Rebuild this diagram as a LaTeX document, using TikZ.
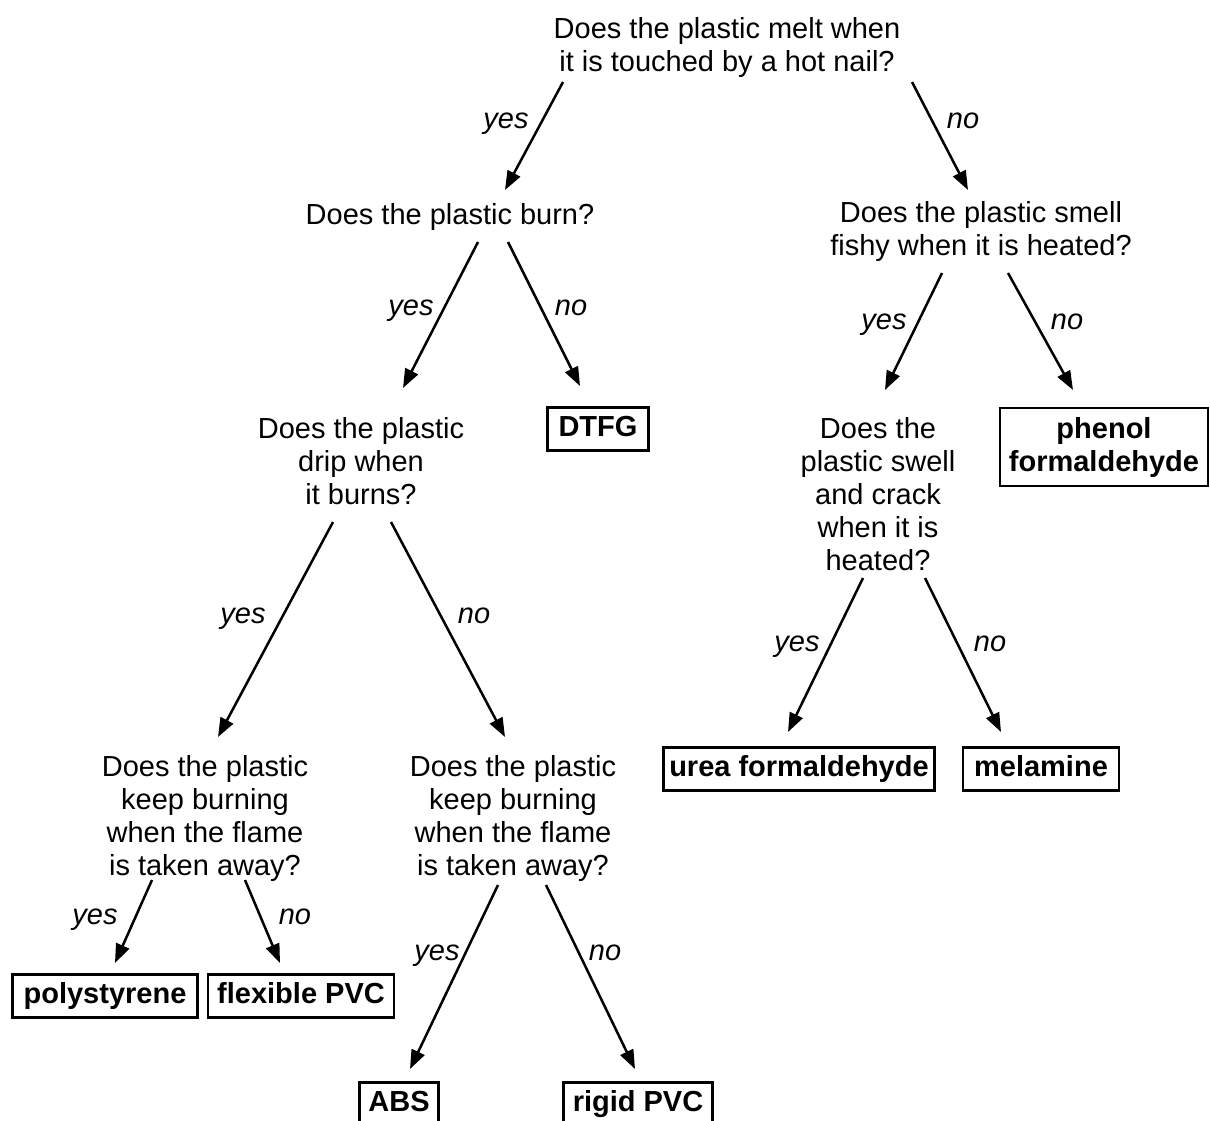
\documentclass[tikz,border=0pt]{standalone}
\usepackage{fontspec}
\setmainfont{Liberation Sans}
\usetikzlibrary{arrows.meta,calc}
\begin{document}
\begin{tikzpicture}[x=1pt,y=-1pt,
  q/.style={align=center,inner sep=0pt,font=\fontsize{29}{33}\selectfont},
  ans/.style={draw,line width=2.6pt,inner xsep=11pt,inner ysep=0pt,minimum height=43pt,
     font=\fontsize{29}{33}\selectfont\bfseries,align=center,text height=20pt,text depth=6pt},
  arr/.style={line width=2.5pt,-{Triangle[length=19pt,width=14pt]}},
  lab/.style={font=\fontsize{29}{33}\selectfont\itshape,inner sep=0pt,anchor=base}]
\useasboundingbox (0,0) rectangle (1210,1120);
\fill[white] (0,0) rectangle (1210,1120);
% questions
\node[q] (q1) at (727,47) {Does the plastic melt when\\it is touched by a hot nail?};
\node[q] (q2) at (450,217) {Does the plastic burn?};
\node[q] (q3) at (981,231) {Does the plastic smell\\fishy when it is heated?};
\node[q] (q4) at (361,461) {Does the plastic\\drip when\\it burns?};
\node[q] (q5) at (878,494) {Does the\\plastic swell\\and crack\\when it is\\heated?};
\node[q] (q6) at (205,818) {Does the plastic\\keep burning\\when the flame\\is taken away?};
\node[q] (q7) at (513,818) {Does the plastic\\keep burning\\when the flame\\is taken away?};
% answers
\node[ans] (dtfg) at (598,429) {DTFG};
\node[ans,text height=,text depth=,minimum height=78pt,inner xsep=9pt] (phenol) at (1104,447) {phenol\\formaldehyde};
\node[ans,inner xsep=6pt] (urea) at (799,769) {urea formaldehyde};
\node[ans] (mel) at (1041,769) {melamine};
\node[ans] (poly) at (105,996) {polystyrene};
\node[ans,inner xsep=9pt] (flex) at (301,996) {flexible PVC};
\node[ans,inner xsep=9pt] (abs) at (399,1104) {ABS};
\node[ans,inner xsep=9pt] (rigid) at (638,1104) {rigid PVC};
% arrows
\draw[arr] ($(q1)+(-164,35)$) -- ($(q2)+(55,-27)$);
\draw[arr] ($(q1)+(185,35)$) -- ($(q3)+(-13,-41)$);
\draw[arr] ($(q2)+(28,25)$) -- ($(q4)+(42,-73)$);
\draw[arr] ($(q2)+(58,25)$) -- ($(dtfg)+(-18,-43)$);
\draw[arr] ($(q3)+(-39,42)$) -- ($(q5)+(7,-104)$);
\draw[arr] ($(q3)+(27,42)$) -- ($(phenol)+(-31,-57)$);
\draw[arr] ($(q4)+(-28,61)$) -- ($(q6)+(13,-81)$);
\draw[arr] ($(q4)+(30,61)$) -- ($(q7)+(-8,-81)$);
\draw[arr] ($(q5)+(-15,84)$) -- ($(urea)+(-11,-37)$);
\draw[arr] ($(q5)+(47,84)$) -- ($(mel)+(-40,-37)$);
\draw[arr] ($(q6)+(-53,62)$) -- ($(poly)+(10,-33)$);
\draw[arr] ($(q6)+(40,62)$) -- ($(flex)+(-21,-33)$);
\draw[arr] ($(q7)+(-15,67)$) -- ($(abs)+(11,-35)$);
\draw[arr] ($(q7)+(33,67)$) -- ($(rigid)+(-3,-35)$);
% labels
\node[lab] (l1) at (506,128) {yes};
\node[lab] (l2) at (963,128) {no};
\node[lab] (l3) at (411,315) {yes};
\node[lab] (l4) at (571,315) {no};
\node[lab] (l5) at (884,329) {yes};
\node[lab] (l6) at (1067,329) {no};
\node[lab] (l7) at (243,623) {yes};
\node[lab] (l8) at (474,623) {no};
\node[lab] (l9) at (797,651) {yes};
\node[lab] (l10) at (990,651) {no};
\node[lab] (l11) at (95,924) {yes};
\node[lab] (l12) at (295,924) {no};
\node[lab] (l13) at (437,960) {yes};
\node[lab] (l14) at (605,960) {no};
\end{tikzpicture}
\end{document}
